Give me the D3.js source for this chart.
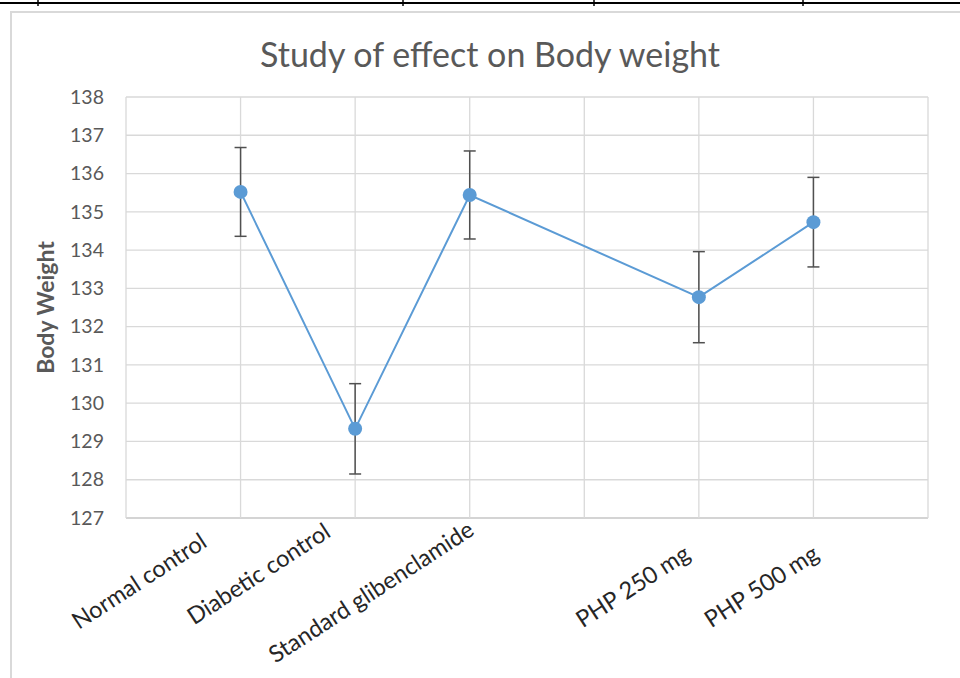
<!DOCTYPE html>
<html>
<head>
<meta charset="utf-8">
<script src="https://cdn.jsdelivr.net/npm/d3@7"></script>
<style>
  body { margin: 0; background: #fff; }
  svg { display: block; font-family: Lato, "Open Sans", sans-serif; }
</style>
</head>
<body>
<div id="chart-area"></div>
<script>
const W = 960, H = 678
const MARGIN = { LEFT: 126, RIGHT: 32, TOP: 97, BOTTOM: 160 }

// data
const groups = ["Normal control", "Diabetic control", "Standard glibenclamide", "PHP 250 mg", "PHP 500 mg"]
const slots = [1, 2, 3, 5, 6]            // category slot on the 0..7 x axis
const weights = [135.52, 129.33, 135.44, 132.77, 134.73]
const errors = [1.16, 1.18, 1.15, 1.19, 1.17]
const yTicks = [127, 128, 129, 130, 131, 132, 133, 134, 135, 136, 137, 138]

const data = groups.map((g, i) => ({ group: g, slot: slots[i], value: weights[i], err: errors[i] }))

// small nudges so rotated labels sit like the Excel ones
const labelNudge = [-41, -32, -3, -16, -2]
const labelY = [532, 522, 520, 544, 544]

const x = d3.scaleLinear()
  .domain([0, 7])
  .range([MARGIN.LEFT, W - MARGIN.RIGHT])

const y = d3.scaleLinear()
  .domain([127, 138])
  .range([H - MARGIN.BOTTOM, MARGIN.TOP])

const svg = d3.select("#chart-area").append("svg")
  .attr("width", W)
  .attr("height", H)

// table border bits above the chart
svg.append("line")
  .attr("x1", 0).attr("x2", W).attr("y1", 3).attr("y2", 3)
  .attr("stroke", "#000").attr("stroke-width", 2)
svg.append("g")
  .selectAll("line")
  .data([38, 403, 594, 803])
  .join("line")
    .attr("x1", d => d).attr("x2", d => d)
    .attr("y1", 0).attr("y2", 6)
    .attr("stroke", "#000").attr("stroke-width", 1.5)

// chart area frame
svg.append("rect")
  .attr("x", 11).attr("y", 12)
  .attr("width", W + 20).attr("height", H + 20)
  .attr("fill", "none")
  .attr("stroke", "#d9d9d9")
  .attr("stroke-width", 2)

svg.append("text")
  .attr("x", 490)
  .attr("y", 67)
  .attr("text-anchor", "middle")
  .attr("fill", "#595959")
  .attr("font-size", 34)
  .text("Study of effect on Body weight")

// gridlines
svg.append("g")
  .selectAll("line")
  .data(yTicks)
  .join("line")
    .attr("x1", x(0)).attr("x2", x(7))
    .attr("y1", d => y(d)).attr("y2", d => y(d))
    .attr("stroke", d => d === 127 ? "#c6c6c6" : "#d9d9d9")
    .attr("stroke-width", 1.3)

svg.append("g")
  .selectAll("line")
  .data(d3.range(0, 8))
  .join("line")
    .attr("x1", d => x(d)).attr("x2", d => x(d))
    .attr("y1", y(138)).attr("y2", y(127))
    .attr("stroke", "#d9d9d9")
    .attr("stroke-width", 1.3)

// y axis
svg.append("g")
  .attr("transform", `translate(${MARGIN.LEFT},0)`)
  .call(d3.axisLeft(y).tickValues(yTicks).tickSize(0).tickPadding(22))
  .call(g => g.select(".domain").remove())
  .call(g => g.selectAll("text")
      .attr("fill", "#595959")
      .attr("font-size", 19.5)
      .attr("font-family", "Lato, sans-serif"))

svg.append("text")
  .attr("transform", `translate(54,${(y(127) + y(138)) / 2}) rotate(-90)`)
  .attr("text-anchor", "middle")
  .attr("fill", "#595959")
  .attr("font-size", 23)
  .attr("font-weight", "bold")
  .text("Body Weight")

// x labels
svg.append("g")
  .selectAll("text")
  .data(data)
  .join("text")
    .attr("transform", (d, i) => `translate(${x(d.slot) + labelNudge[i]},${labelY[i]}) rotate(-33)`)
    .attr("text-anchor", "end")
    .attr("dy", "0.7em")
    .attr("fill", "#262626")
    .attr("font-size", 23.5)
    .text(d => d.group)

// series line
const line = d3.line()
  .x(d => x(d.slot))
  .y(d => y(d.value))

svg.append("path")
  .attr("fill", "none")
  .attr("stroke", "#5b9bd5")
  .attr("stroke-width", 2)
  .attr("d", line(data))

// error bars
const eb = svg.append("g")
  .attr("stroke", "#505050")
  .attr("stroke-width", 1.5)
  .selectAll("g")
  .data(data)
  .join("g")

eb.append("line")
  .attr("x1", d => x(d.slot)).attr("x2", d => x(d.slot))
  .attr("y1", d => y(d.value + d.err)).attr("y2", d => y(d.value - d.err))
eb.append("line")
  .attr("x1", d => x(d.slot) - 6).attr("x2", d => x(d.slot) + 6)
  .attr("y1", d => y(d.value + d.err)).attr("y2", d => y(d.value + d.err))
eb.append("line")
  .attr("x1", d => x(d.slot) - 6).attr("x2", d => x(d.slot) + 6)
  .attr("y1", d => y(d.value - d.err)).attr("y2", d => y(d.value - d.err))

// markers
svg.append("g")
  .selectAll("circle")
  .data(data)
  .join("circle")
    .attr("cx", d => x(d.slot))
    .attr("cy", d => y(d.value))
    .attr("r", 7)
    .attr("fill", "#5b9bd5")
</script>
</body>
</html>
